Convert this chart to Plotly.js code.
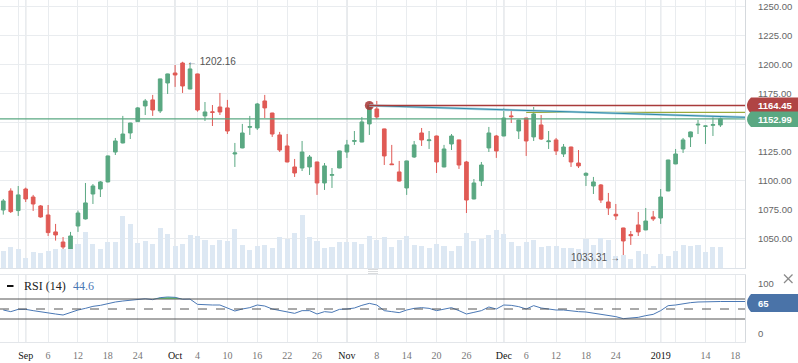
<!DOCTYPE html>
<html><head><meta charset="utf-8">
<script src="https://cdn.plot.ly/plotly-3.0.1.min.js"></script>
<style>html,body{margin:0;padding:0;background:#fff;}#chart{width:798px;height:363px;}</style>
</head><body><div id="chart"></div>
<script>
// ---------- data ----------
const openP = [1074.4,1090.8,1073.9,1092.5,1085.6,1077.9,1070.1,1055.5,1046.8,1040.8,1060.6,1066.7,1088.2,1092.5,1098.6,1124.4,1132.2,1140.8,1150.6,1164.1,1169.3,1159.8,1183.9,1192.5,1201.1,1178.7,1191.7,1155.5,1159.0,1163.2,1162.4,1122.7,1127.9,1145.7,1145.1,1168.4,1158.0,1139.1,1129.6,1111.5,1110.6,1111.5,1115.8,1097.7,1104.3,1110.6,1124.4,1133.6,1133.0,1148.6,1161.5,1144.3,1114.1,1107.2,1093.4,1120.1,1140.8,1134.2,1138.2,1111.5,1131.3,1134.8,1115.8,1083.9,1099.4,1127.9,1138.2,1138.2,1155.5,1142.5,1153.7,1137.4,1147.7,1133.3,1134.8,1122.7,1128.7,1114.9,1104.3,1095.1,1096.0,1081.3,1070.7,1058.9,1053.2,1061.5,1057.2,1068.4,1067.5,1090.8,1114.1,1127.0,1137.4,1147.7,1146.6,1147.4,1147.7];
const highP = [1083.9,1093.1,1095.1,1093.7,1087.4,1078.7,1078.7,1062.4,1051.1,1055.5,1073.9,1097.7,1096.8,1099.4,1121.3,1136.5,1155.5,1149.6,1163.2,1170.1,1173.6,1187.6,1191.9,1199.4,1202.16,1200.3,1191.9,1167.5,1164.9,1175.3,1169.3,1132.2,1148.6,1155.5,1166.7,1173.6,1158.2,1141.7,1139.9,1118.4,1133.9,1121.8,1116.0,1114.9,1110.6,1125.5,1134.8,1142.5,1154.6,1166.9,1168.4,1144.5,1130.5,1116.7,1116.9,1133.9,1145.1,1142.5,1138.5,1130.5,1139.9,1135.0,1116.7,1101.1,1115.8,1146.0,1139.1,1162.4,1159.8,1152.2,1153.9,1163.2,1156.3,1142.5,1136.5,1131.3,1129.0,1126.1,1106.9,1102.9,1096.8,1089.1,1079.6,1059.1,1056.3,1072.7,1076.1,1073.6,1092.5,1117.7,1127.0,1136.5,1142.0,1152.0,1147.0,1154.6,1154.6];
const lowP = [1070.4,1071.8,1069.3,1081.3,1073.6,1067.8,1052.0,1048.0,1039.1,1039.9,1055.5,1066.2,1079.6,1085.6,1098.2,1121.8,1131.8,1135.6,1150.3,1156.3,1155.5,1158.0,1174.4,1180.5,1175.3,1178.5,1159.2,1151.1,1146.8,1156.3,1139.9,1111.5,1127.6,1139.1,1143.4,1153.7,1137.4,1124.4,1115.5,1102.9,1108.0,1104.6,1087.4,1091.7,1093.4,1110.4,1119.3,1130.5,1132.8,1139.1,1152.9,1113.2,1113.2,1099.0,1087.4,1119.3,1129.6,1127.0,1106.3,1111.2,1126.1,1109.8,1071.8,1083.6,1095.1,1124.4,1119.3,1138.0,1149.4,1135.6,1121.0,1133.9,1134.8,1127.0,1121.8,1120.1,1111.5,1110.6,1095.1,1088.2,1080.5,1070.1,1065.8,1033.31,1044.3,1052.0,1057.0,1064.9,1062.4,1090.6,1113.9,1123.6,1128.7,1139.9,1131.3,1138.2,1146.0];
const closeP = [1082.2,1073.0,1087.4,1083.9,1079.6,1068.4,1054.9,1052.9,1042.5,1052.0,1071.8,1080.5,1095.1,1098.6,1121.0,1133.9,1139.9,1149.4,1162.4,1168.4,1160.6,1187.4,1191.7,1190.8,1181.3,1196.0,1160.6,1158.9,1158.6,1158.9,1142.5,1123.6,1140.8,1146.3,1165.8,1162.4,1139.9,1126.1,1115.8,1106.3,1124.4,1120.1,1097.7,1112.4,1104.9,1125.3,1130.5,1134.2,1150.3,1164.45,1154.6,1121.0,1113.5,1099.4,1116.7,1130.5,1134.8,1134.8,1115.8,1127.0,1138.2,1113.2,1083.0,1097.7,1113.2,1140.8,1125.3,1153.7,1154.9,1152.0,1133.9,1157.2,1135.6,1133.9,1125.3,1128.7,1115.8,1112.4,1106.0,1098.6,1083.0,1076.1,1069.3,1047.7,1052.3,1055.5,1064.9,1066.7,1085.6,1117.5,1122.7,1134.8,1141.7,1148.3,1146.8,1148.0,1152.99];
const volume = [50,62,56,29,47,44,50,56,58,58,71,107,71,56,77,77,155,131,74,80,71,119,101,65,71,98,95,83,68,83,80,116,68,53,65,68,59,92,86,104,158,92,80,59,62,77,77,77,71,95,83,92,62,83,95,68,65,59,71,65,50,65,104,80,86,98,113,101,77,65,77,83,62,65,65,59,59,56,87,69,90,84,37,38,28,51,43,6,43,36,51,69,66,69,48,63,63];
const rsi = [48,44.7,49.3,49.3,46.7,44,41.3,40,38,43.3,48,51.3,55.3,57.3,61.3,64,66,67.3,69.3,70.5,68.7,72.7,74,73.3,69.5,69.8,59.3,58,58,58,51.3,46,50,52.7,58,56,50,46.7,44.7,41.3,46.7,46.7,40,44.7,43.3,49.3,50,52,57.3,61.3,58,46.7,44.7,42.7,48,51.3,52.7,51.3,46.7,50,52.7,46.7,40,43.3,46.7,54,50,58,57.3,54.7,50,56.7,52,50,48,48,46,44.7,44,42,39.3,37.3,34.7,30.7,31.3,33.3,36.7,39.3,46.7,56.7,58,60.7,62.7,64,64,64,65];
const tickPos    = [2,3,6,10,14,18,23,26,30,34,38,42,46,50,54,58,62,66,67,70,74,78,82,86,88,90,94,98];
const tickLabels = ["","Sep","6","12","18","24","Oct","4","10","16","22","26","Nov","8","14","20","26","","Dec","6","12","18","24","","2019","","14","18"];
const monthLabels = ["Sep","Oct","Nov","Dec","2019"];
const priceTicks = [1050,1075,1100,1125,1150,1175,1200,1225,1250];
const hiddenPriceTicks = [1150];   // covered by the last-price box in the reference
const rsiTicks = [0,100];
const rsiLevels = [30,50,70];
const markIdx = 49;          // candle marked with the circle
const trendEnd = 1154.3;     // end of the teal trend line at the right edge
const oliveLevel = 1158.6, oliveStart = 70;
const rsiShown = "44.6";

// ---------- layout geometry ----------
const W=798,H=363,ML=0,MR=53,MT=0,MB=21;
const PW=W-ML-MR, PH=H-MT-MB;
const px = x => x/PW;
const py = y => (PH-y)/PH;
const G='#5aa882', Rd='#e05a55';
const idx = closeP.map((_,i)=>i);
const xr=[-0.44, 99.29];
const last = closeP.length-1;

const traces = [
 {type:'bar',x:idx,y:volume,xaxis:'x',yaxis:'y2',width:0.68,marker:{color:'#dde8f3',line:{width:0}},hoverinfo:'skip'},
 {type:'candlestick',x:idx,open:openP,high:highP,low:lowP,close:closeP,xaxis:'x',yaxis:'y',
  increasing:{line:{color:G,width:1},fillcolor:G},decreasing:{line:{color:Rd,width:1},fillcolor:Rd},whiskerwidth:0,hoverinfo:'skip'},
 {type:'scatter',mode:'markers',x:[markIdx],y:[closeP[markIdx]],xaxis:'x',yaxis:'y',marker:{size:9,color:'rgba(168,52,52,0.85)'},hoverinfo:'skip'},
 {type:'scatter',mode:'lines',x:idx,y:idx.map(()=>70),xaxis:'x2',yaxis:'y3',line:{width:0},hoverinfo:'skip'},
 {type:'scatter',mode:'lines',x:idx,y:rsi.map(v=>Math.max(v,70)),xaxis:'x2',yaxis:'y3',line:{width:0},fill:'tonexty',fillcolor:'#74ee74',hoverinfo:'skip'},
 {type:'scatter',mode:'lines',x:idx,y:rsi,xaxis:'x2',yaxis:'y3',line:{color:'#4a78b5',width:1},hoverinfo:'skip'}
];

const shapes = [];
tickPos.forEach((p,k)=>{ if(monthLabels.includes(tickLabels[k])){
  shapes.push({type:'line',xref:'x',yref:'y domain',x0:p,x1:p,y0:0,y1:1,line:{color:'#d6d9dd',width:1.3},layer:'below'});
  shapes.push({type:'line',xref:'x2',yref:'y3 domain',x0:p,x1:p,y0:0,y1:1,line:{color:'#d6d9dd',width:1.3},layer:'below'});
}});
shapes.push({type:'line',xref:'x',yref:'y',x0:xr[0],x1:xr[1],y0:closeP[last],y1:closeP[last],line:{color:G,width:1.2}});
shapes.push({type:'line',xref:'x',yref:'y',x0:oliveStart,x1:xr[1],y0:oliveLevel,y1:oliveLevel,line:{color:'#9aaa3c',width:1.3}});
shapes.push({type:'line',xref:'x',yref:'y',x0:markIdx,x1:xr[1],y0:closeP[markIdx],y1:trendEnd,line:{color:'#a9d2de',width:2.4}});
shapes.push({type:'line',xref:'x',yref:'y',x0:markIdx,x1:xr[1],y0:closeP[markIdx],y1:trendEnd,line:{color:'#2f8aa8',width:1}});
shapes.push({type:'line',xref:'x',yref:'y',x0:markIdx,x1:xr[1],y0:closeP[markIdx],y1:closeP[markIdx],line:{color:'#a83a3a',width:1.4}});
rsiLevels.forEach(v=>shapes.push({type:'line',xref:'x2 domain',yref:'y3',x0:0,x1:1,y0:v,y1:v,line:{color:'#555',width:1,dash:v===50?'dash':'solid'}}));
shapes.push({type:'line',xref:'x2',yref:'y3',x0:last,x1:xr[1],y0:rsi[last],y1:rsi[last],line:{color:'#4a78b5',width:1}});
function box(yTop,yBot,color){
  const ym=(yTop+yBot)/2;
  return {type:'path',xref:'paper',yref:'paper',layer:'above',fillcolor:color,line:{width:0},
   path:`M ${px(751)} ${py(yTop)} L ${px(798)} ${py(yTop)} L ${px(798)} ${py(yBot)} L ${px(751)} ${py(yBot)} Q ${px(743)} ${py(ym)} ${px(751)} ${py(yTop)} Z`};
}
shapes.push(box(97.5,113.5,'#b04444'));
shapes.push(box(111.5,127,G));
shapes.push(box(294,312,'#4a73a8'));
shapes.push({type:'rect',xref:'paper',yref:'paper',x0:px(7),x1:px(13.5),y0:py(287),y1:py(285),fillcolor:'#111',line:{width:0}});
shapes.push({type:'line',xref:'paper',yref:'paper',x0:px(784),x1:px(792.5),y0:py(274.5),y1:py(283),line:{color:'#8a8a8a',width:1.2}});
shapes.push({type:'line',xref:'paper',yref:'paper',x0:px(784),x1:px(792.5),y0:py(283),y1:py(274.5),line:{color:'#8a8a8a',width:1.2}});
[269.5,271.5,273.5].forEach(y=>shapes.push({type:'line',xref:'paper',yref:'paper',x0:px(368),x1:px(378),y0:py(y),y1:py(y),line:{color:'#d0d3d6',width:0.8}}));

const lbl = {family:'Liberation Sans, Arial, sans-serif',size:9.5,color:'#666'};
const note = {family:'Liberation Sans, Arial, sans-serif',size:10,color:'#555'};
const boxFont = {family:'Liberation Sans, Arial, sans-serif',size:9.5,color:'#fff'};
const annotations = [
 {xref:'paper',yref:'paper',x:px(756),y:py(105.7),xanchor:'left',yanchor:'middle',showarrow:false,text:'<b>'+closeP[markIdx].toFixed(2)+'</b>',font:boxFont},
 {xref:'paper',yref:'paper',x:px(756),y:py(119.3),xanchor:'left',yanchor:'middle',showarrow:false,text:'<b>'+closeP[last].toFixed(2)+'</b>',font:boxFont},
 {xref:'paper',yref:'paper',x:px(756),y:py(303),xanchor:'left',yanchor:'middle',showarrow:false,text:'<b>'+Math.round(rsi[last])+'</b>',font:boxFont},
 {xref:'x',yref:'y',x:24,y:highP[24],xanchor:'left',yanchor:'middle',xshift:2,showarrow:false,text:'← '+highP[24].toFixed(2),font:note},
 {xref:'x',yref:'y',x:83,y:lowP[83],xanchor:'right',yanchor:'middle',xshift:-1,showarrow:false,text:lowP[83].toFixed(2)+' →',font:note},
 {xref:'paper',yref:'paper',x:px(22),y:py(286),xanchor:'left',yanchor:'middle',showarrow:false,text:'RSI (14)',font:{family:'Liberation Serif, serif',size:12,color:'#222'}},
 {xref:'paper',yref:'paper',x:px(70.5),y:py(286),xanchor:'left',yanchor:'middle',showarrow:false,text:rsiShown,font:{family:'Liberation Serif, serif',size:12,color:'#4a78b5'}}
];

const ticktext = tickLabels.map(t=>monthLabels.includes(t)?'<span style="color:#111">'+t+'</span>':t);
const grid='#e9ecef';
const layout = {
 width:W,height:H,margin:{l:ML,r:MR,t:MT,b:MB},paper_bgcolor:'#fff',plot_bgcolor:'#fff',showlegend:false,
 xaxis:{domain:[0,1],range:xr,anchor:'y',tickvals:tickPos,showticklabels:false,showgrid:true,gridcolor:grid,gridwidth:1,zeroline:false,showline:true,linecolor:'#dde2e8',ticks:'',rangeslider:{visible:false},fixedrange:true},
 xaxis2:{domain:[0,1],range:xr,anchor:'y3',matches:'x',tickvals:tickPos,ticktext:ticktext,tickfont:{family:'Liberation Serif, serif',size:10,color:'#777'},ticks:'',ticklabelstandoff:4,showgrid:true,gridcolor:grid,zeroline:false,showline:true,mirror:true,linecolor:'#e3e6ea'},
 yaxis:{domain:[py(268),1],range:[1024.4,1255.43],side:'right',tickvals:priceTicks,ticktext:priceTicks.map(v=>hiddenPriceTicks.includes(v)?'':v.toFixed(2)),tickfont:lbl,ticks:'',ticklabelstandoff:10,showgrid:true,gridcolor:grid,zeroline:false,showline:true,linecolor:'#d5d9dd'},
 yaxis2:{domain:[py(268),1],overlaying:'y',range:[0,804],visible:false,showgrid:false},
 yaxis3:{domain:[0,py(275)],range:[-16,118],side:'right',anchor:'x2',tickvals:rsiTicks,tickfont:lbl,ticks:'',ticklabelstandoff:10,showgrid:false,zeroline:false,showline:true,linecolor:'#d5d9dd'},
 shapes:shapes,annotations:annotations,bargap:0
};
Plotly.newPlot('chart',traces,layout,{displayModeBar:false,staticPlot:true});
</script></body></html>
